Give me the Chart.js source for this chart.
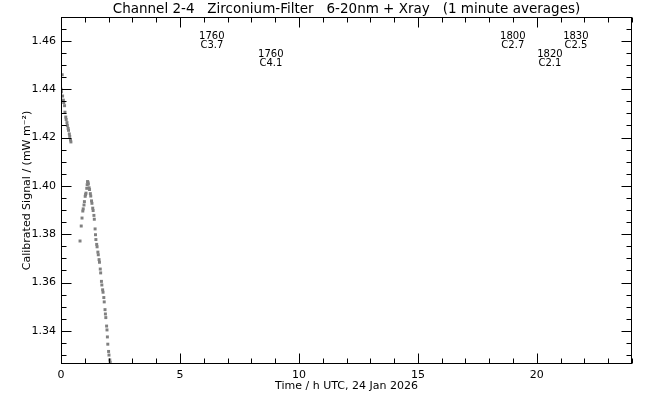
<!DOCTYPE html>
<html>
<head>
<meta charset="utf-8">
<script src="https://cdn.jsdelivr.net/npm/chart.js@4.4.1/dist/chart.umd.min.js"></script>
<style>
  html, body { margin: 0; padding: 0; background: #fff; }
  #wrap { width: 650px; height: 400px; }
</style>
</head>
<body>
<div id="wrap"><canvas id="signalChart" width="650" height="400"></canvas></div>
<script>
// 1-minute averages, minutes after 00 UT (gaps are missing minutes)
const sampleMinutes = [
  0, 1, 3, 4, 6, 7, 9, 10, 12, 13, 15, 16, 18, 19, 21, 22, 24, 25,
  48, 51, 53, 55, 56, 58, 59, 61, 62, 63, 65, 66, 67,
  68, 69, 71, 72, 74, 75, 77, 78, 80, 81, 83, 84, 86, 87, 88, 90, 91, 93, 94,
  96, 97, 99, 100, 102, 103, 105, 106, 108, 109, 111, 112, 113, 115, 116, 117, 118, 120, 121, 123, 124
];
const signal = [
  1.4400, 1.4390, 1.4460, 1.4372, 1.4355, 1.4345, 1.4332, 1.4305, 1.4285, 1.4275, 1.4262, 1.4250,
  1.4238, 1.4230, 1.4215, 1.4205, 1.4190, 1.4182,
  1.3772, 1.3834, 1.3867, 1.3896, 1.3905, 1.3921, 1.3935, 1.3957, 1.3964, 1.3970, 1.3990, 1.4005, 1.4018,
  1.4015, 1.4008, 1.3992, 1.3985, 1.3968, 1.3958, 1.3938, 1.3928, 1.3908, 1.3898, 1.3878, 1.3862,
  1.3822, 1.3798, 1.3778, 1.3758, 1.3748, 1.3726, 1.3715,
  1.3695, 1.3684, 1.3656, 1.3640, 1.3605, 1.3590, 1.3570, 1.3560, 1.3538, 1.3520, 1.3488, 1.3470,
  1.3455, 1.3420, 1.3404, 1.3375, 1.3345, 1.3315, 1.3300, 1.3280, 1.3270
];

// flare annotations (time in h UTC)
const flareTimes = [6.34, 8.82, 18.99, 21.64, 20.55];
const flareStarts = ['1760', '1760', '1800', '1830', '1820'];
const flareClasses = ['C3.7', 'C4.1', 'C2.7', 'C2.5', 'C2.1'];
const flareRows = [0, 1, 0, 0, 1];

const xTicks = [0, 5, 10, 15, 20];
const yTicks = [1.34, 1.36, 1.38, 1.40, 1.42, 1.44, 1.46];

const titleText = 'Channel 2-4   Zirconium-Filter   6-20nm + Xray   (1 minute averages)';
const xTitle = 'Time / h UTC, 24 Jan 2026';
const yTitle = 'Calibrated Signal / (mW m\u207B\u00B2)';

const FONT = '"DejaVu Sans", sans-serif';

// frame, inward ticks on all four sides, titles and flare labels
const framePlugin = {
  id: 'frame',
  afterDraw(chart) {
    const ctx = chart.ctx;
    const a = chart.chartArea;
    const x = chart.scales.x, y = chart.scales.y;
    ctx.save();
    ctx.strokeStyle = '#000';
    ctx.lineWidth = 1;
    const L = Math.round(a.left) + 0.5, R = Math.round(a.right) - 0.5;
    const T = Math.round(a.top) + 0.5, B = Math.round(a.bottom) - 0.5;
    ctx.strokeRect(L, T, R - L, B - T);

    ctx.beginPath();
    for (let h = 0; h <= 24; h++) {
      const px = Math.round(x.getPixelForValue(h)) + 0.5;
      const len = (h % 5 === 0) ? 10 : 5;
      ctx.moveTo(px, B); ctx.lineTo(px, B - len);
      ctx.moveTo(px, T); ctx.lineTo(px, T + len);
    }
    for (let k = 0; k <= 30; k++) {
      const v = 1.325 + k * 0.005;
      if (v < y.min || v > y.max) continue;
      const py = Math.round(y.getPixelForValue(v)) + 0.5;
      const len = (k % 4 === 3) ? 10 : 5;
      ctx.moveTo(L, py); ctx.lineTo(L + len, py);
      ctx.moveTo(R, py); ctx.lineTo(R - len, py);
    }
    ctx.stroke();

    ctx.fillStyle = '#000';
    ctx.textAlign = 'center';
    ctx.textBaseline = 'middle';
    ctx.font = '13.5px ' + FONT;
    ctx.fillText(titleText, (a.left + a.right) / 2, 9);
    ctx.font = '11px ' + FONT;
    ctx.fillText(xTitle, (a.left + a.right) / 2, 386);
    ctx.save();
    ctx.translate(27, (a.top + a.bottom) / 2);
    ctx.rotate(-Math.PI / 2);
    ctx.fillText(yTitle, 0, 0);
    ctx.restore();

    ctx.font = '10px ' + FONT;
    flareTimes.forEach((t, i) => {
      const px = x.getPixelForValue(t);
      const top = a.top + 19 + flareRows[i] * 18;
      ctx.fillText(flareStarts[i], px, top);
      ctx.fillText(flareClasses[i], px, top + 9);
    });
    ctx.restore();
  }
};

const ctx = document.getElementById('signalChart').getContext('2d');
const signalChart = new Chart(ctx, {
  type: 'scatter',
  data: {
    datasets: [{
      label: 'Signal',
      data: sampleMinutes.map((m, i) => ({ x: m / 60, y: signal[i] })),
      backgroundColor: '#808080',
      borderWidth: 0,
      pointStyle: 'rect',
      pointRadius: 2.1
    }]
  },
  options: {
    responsive: false,
    animation: false,
    layout: { padding: { top: 17, right: 18, left: 0, bottom: 0 } },
    plugins: {
      legend: { display: false },
      tooltip: { enabled: false },
      title: { display: false }
    },
    scales: {
      x: {
        type: 'linear',
        min: 0,
        max: 24,
        grid: { display: false, drawTicks: false },
        border: { display: false },
        afterBuildTicks: scale => { scale.ticks = xTicks.map(v => ({ value: v })); },
        afterFit: scale => { scale.height = 36; },
        ticks: {
          color: '#000',
          padding: 5,
          maxRotation: 0,
          autoSkip: false,
          font: { family: FONT, size: 11 },
          callback: v => String(v)
        }
      },
      y: {
        type: 'linear',
        min: 1.3263,
        max: 1.4699,
        grid: { display: false, drawTicks: false },
        border: { display: false },
        afterBuildTicks: scale => { scale.ticks = yTicks.map(v => ({ value: v })); },
        afterFit: scale => { scale.width = 61; },
        ticks: {
          color: '#000',
          padding: 5,
          autoSkip: false,
          font: { family: FONT, size: 11 },
          callback: v => v.toFixed(2)
        }
      }
    }
  },
  plugins: [framePlugin]
});
</script>
</body>
</html>
